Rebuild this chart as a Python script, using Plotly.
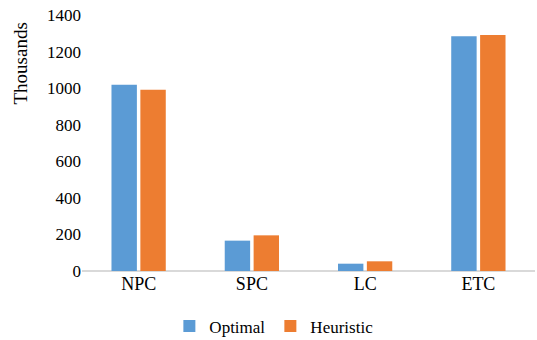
import plotly.graph_objects as go

categories = ["NPC", "SPC", "LC", "ETC"]
optimal = [1018, 166, 40, 1284]
heuristic = [991, 195, 53, 1290]
y_ticks = [0, 200, 400, 600, 800, 1000, 1200, 1400]

FONT = "Liberation Serif"

fig = go.Figure()
fig.add_trace(go.Bar(name="Optimal", x=categories, y=optimal,
                     marker=dict(color="#5B9BD5", line=dict(width=0))))
fig.add_trace(go.Bar(name="Heuristic", x=categories, y=heuristic,
                     marker=dict(color="#ED7D31", line=dict(width=0))))

fig.update_layout(
    width=537, height=340,
    margin=dict(l=82, r=2, t=15, b=69, autoexpand=False),
    paper_bgcolor="white", plot_bgcolor="white",
    barmode="group", bargap=0.49, bargroupgap=0.12,
    font=dict(family=FONT, color="#000000"),
    showlegend=True,
    legend=dict(orientation="h", x=0.51, xanchor="center", xref="container",
                y=0.04, yanchor="middle", yref="container",
                font=dict(size=17, family=FONT, color="#000000"), itemwidth=30,
                traceorder="normal"),
    xaxis=dict(showgrid=False, showline=False, ticks="",
               tickfont=dict(size=18, family=FONT, color="#000000")),
    yaxis=dict(range=[0, 1400], tickvals=y_ticks, showgrid=False,
               zeroline=True, zerolinecolor="#D9D9D9", zerolinewidth=1.5,
               showline=False, ticks="", ticklen=0,
               tickfont=dict(size=17, family=FONT, color="#000000")),
    annotations=[dict(text="Thousands", xref="paper", yref="paper",
                      x=-0.135, y=0.81, textangle=-90, showarrow=False,
                      xanchor="center", yanchor="middle",
                      font=dict(size=19, family=FONT, color="#000000"))],
)

fig.write_html("out.html")
